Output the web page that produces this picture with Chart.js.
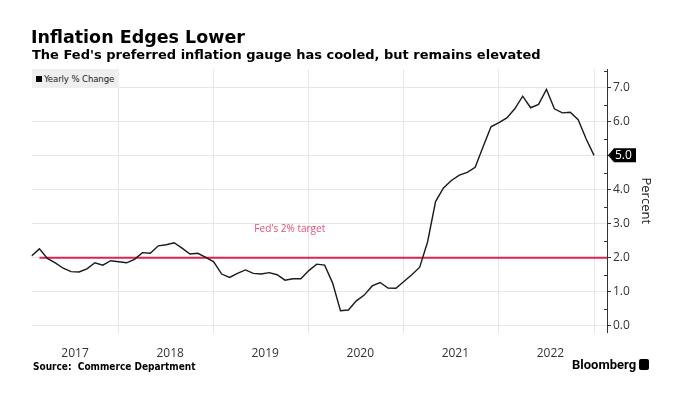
<!DOCTYPE html>
<html>
<head>
<meta charset="utf-8">
<script src="https://cdn.jsdelivr.net/npm/chart.js@4.4.1/dist/chart.umd.min.js"></script>
<style>
    html, body { margin: 0; padding: 0; background: #fff; }
    body { width: 675px; height: 411px; position: relative; overflow: hidden; font-family: "DejaVu Sans Condensed", "DejaVu Sans", sans-serif; color: #000; }
    #statsChart { position: absolute; left: 0; top: 0; }
    .title { position: absolute; left: 31px; top: 27px; font-family: "DejaVu Sans", sans-serif; font-size: 17.5px; font-weight: bold; line-height: 20px; white-space: nowrap; }
    .subtitle { position: absolute; left: 32px; top: 47px; font-family: "DejaVu Sans", sans-serif; font-size: 13px; font-weight: bold; line-height: 16px; white-space: nowrap; }
    .legend { position: absolute; left: 32px; top: 69px; width: 87px; height: 19px; background: #efefef; font-size: 9.5px; letter-spacing: -0.1px; line-height: 19px; color: #222; white-space: nowrap; }
    .legend .sq { display: inline-block; width: 6px; height: 6px; background: #000; margin: 0 2px 0 4px; }
    .source { position: absolute; left: 33px; top: 361px; font-size: 10px; font-weight: bold; white-space: nowrap; }
    .brand { position: absolute; left: 572px; top: 357px; font-family: Roboto, sans-serif; font-size: 13px; font-weight: bold; }
    .brand .logo { display: inline-block; width: 10px; height: 11px; background: #000; border-radius: 2px; margin-left: 3px; vertical-align: -1px; }
</style>
</head>
<body>
<canvas id="statsChart" width="675" height="411"></canvas>
<div class="title">Inflation Edges Lower</div>
<div class="subtitle">The Fed's preferred inflation gauge has cooled, but remains elevated</div>
<div class="legend"><span class="sq"></span>Yearly % Change</div>
<div class="source">Source:&nbsp; Commerce Department</div>
<div class="brand">Bloomberg<span class="logo"></span></div>
<script>
// PCE price index, yearly % change, monthly Jan 2017 - Dec 2022
const years = ["2017", "2018", "2019", "2020", "2021", "2022"];
const monthNames = ["Jan", "Feb", "Mar", "Apr", "May", "Jun", "Jul", "Aug", "Sep", "Oct", "Nov", "Dec"];
const pce2017 = [2.05, 2.26, 1.98, 1.85, 1.69, 1.59, 1.58, 1.67, 1.85, 1.78, 1.91, 1.88];
const pce2018 = [1.85, 1.95, 2.15, 2.13, 2.35, 2.38, 2.44, 2.28, 2.11, 2.13, 2.01, 1.88];
const pce2019 = [1.52, 1.42, 1.54, 1.64, 1.54, 1.52, 1.56, 1.50, 1.34, 1.38, 1.38, 1.62];
const pce2020 = [1.81, 1.78, 1.26, 0.44, 0.46, 0.73, 0.90, 1.17, 1.27, 1.11, 1.10, 1.30];
const pce2021 = [1.50, 1.72, 2.47, 3.65, 4.05, 4.27, 4.43, 4.51, 4.66, 5.26, 5.85, 5.97];
const pce2022 = [6.11, 6.38, 6.75, 6.41, 6.51, 6.95, 6.38, 6.26, 6.28, 6.06, 5.50, 5.01];
const yTickValues = [0, 1, 2, 3, 4, 5, 6, 7];
const targetRate = 2;
const targetLabel = "Fed's 2% target";

const pceValues = [].concat(pce2017, pce2018, pce2019, pce2020, pce2021, pce2022);
const monthLabels = [];
years.forEach(yr => monthNames.forEach(m => monthLabels.push(m + " " + yr)));

// x is the month index; year gridlines sit on each December, year labels mid-year
const xMin = 0;
const xMax = 72.64;
const yearEnds = years.map((_, k) => k * 12 + 11);
const yearMids = years.map((_, k) => k * 12 + 5.5);

const extrasPlugin = {
    id: "extras",
    afterDraw(chart) {
        const { ctx, chartArea, scales } = chart;
        const x = scales.x, y = scales.y;
        ctx.save();

        // minor ticks on the inside of the value axis
        ctx.strokeStyle = "#333";
        ctx.lineWidth = 1;
        yTickValues.forEach(v => {
            if (v + 0.5 > y.max) return;
            const py = Math.round(y.getPixelForValue(v + 0.5)) + 0.5;
            ctx.beginPath();
            ctx.moveTo(chartArea.right - 3, py);
            ctx.lineTo(chartArea.right, py);
            ctx.stroke();
        });

        // target label
        ctx.fillStyle = "#ee4d73";
        ctx.font = "10px 'Open Sans', sans-serif";
        ctx.textAlign = "center";
        ctx.textBaseline = "middle";
        ctx.fillText(targetLabel, x.getPixelForValue(32.6), y.getPixelForValue(2.85));

        // last value tag
        const last = pceValues[pceValues.length - 1];
        const py = y.getPixelForValue(last);
        const left = chartArea.right + 1;
        ctx.fillStyle = "#000";
        ctx.beginPath();
        ctx.moveTo(left, py);
        ctx.lineTo(left + 6, py - 7);
        ctx.lineTo(left + 28, py - 7);
        ctx.lineTo(left + 28, py + 7);
        ctx.lineTo(left + 6, py + 7);
        ctx.closePath();
        ctx.fill();
        ctx.fillStyle = "#fff";
        ctx.font = "12px 'Open Sans', sans-serif";
        ctx.textAlign = "left";
        ctx.fillText(last.toFixed(1), left + 7, py + 0.5);
        ctx.restore();
    }
};

const ctx = document.getElementById("statsChart").getContext("2d");
new Chart(ctx, {
    type: "line",
    data: {
        datasets: [
            {
                label: "Yearly % Change",
                data: pceValues.map((v, i) => ({ x: i, y: v })),
                borderColor: "#1a1a1a",
                borderWidth: 1.4,
                pointRadius: 0,
                tension: 0,
                order: 1
            },
            {
                label: targetLabel,
                data: [{ x: 1, y: targetRate }, { x: xMax, y: targetRate }],
                borderColor: "#e0214f",
                borderWidth: 2,
                pointRadius: 0,
                order: 2
            }
        ]
    },
    options: {
        responsive: false,
        animation: false,
        layout: { padding: { left: 31.5, top: 69, right: 21, bottom: 48.5 } },
        plugins: {
            legend: { display: false },
            tooltip: { enabled: false }
        },
        scales: {
            x: {
                type: "linear",
                min: xMin,
                max: xMax,
                position: "bottom",
                afterBuildTicks: s => { s.ticks = yearEnds.map(v => ({ value: v })); },
                afterFit: s => { s.height = 0; },
                ticks: { display: false },
                grid: { color: "#e6e6e6", drawTicks: false },
                border: { display: false }
            },
            x2: {
                type: "linear",
                min: xMin,
                max: xMax,
                position: "bottom",
                afterBuildTicks: s => { s.ticks = yearMids.map(v => ({ value: v })); },
                afterFit: s => { s.height = 30; },
                ticks: {
                    autoSkip: false,
                    maxRotation: 0,
                    padding: 14,
                    color: "#333",
                    font: { family: "'Open Sans', sans-serif", size: 12 },
                    callback: (value, i) => years[i]
                },
                grid: { display: false, drawTicks: false },
                border: { display: false }
            },
            y: {
                position: "right",
                min: -0.2,
                max: 7.55,
                afterBuildTicks: s => { s.ticks = yTickValues.map(v => ({ value: v })); },
                afterFit: s => { s.width = 47; },
                ticks: {
                    padding: 2,
                    color: "#333",
                    font: { family: "'Open Sans', sans-serif", size: 12 },
                    callback: value => value.toFixed(1)
                },
                grid: { color: "#e6e6e6", tickColor: "#333", tickLength: 4 },
                border: { display: true, color: "#333", width: 1 },
                title: {
                    display: true,
                    text: "Percent",
                    color: "#222",
                    font: { family: "'Open Sans', sans-serif", size: 13 },
                    padding: 0
                }
            }
        }
    },
    plugins: [extrasPlugin]
});
</script>
</body>
</html>
